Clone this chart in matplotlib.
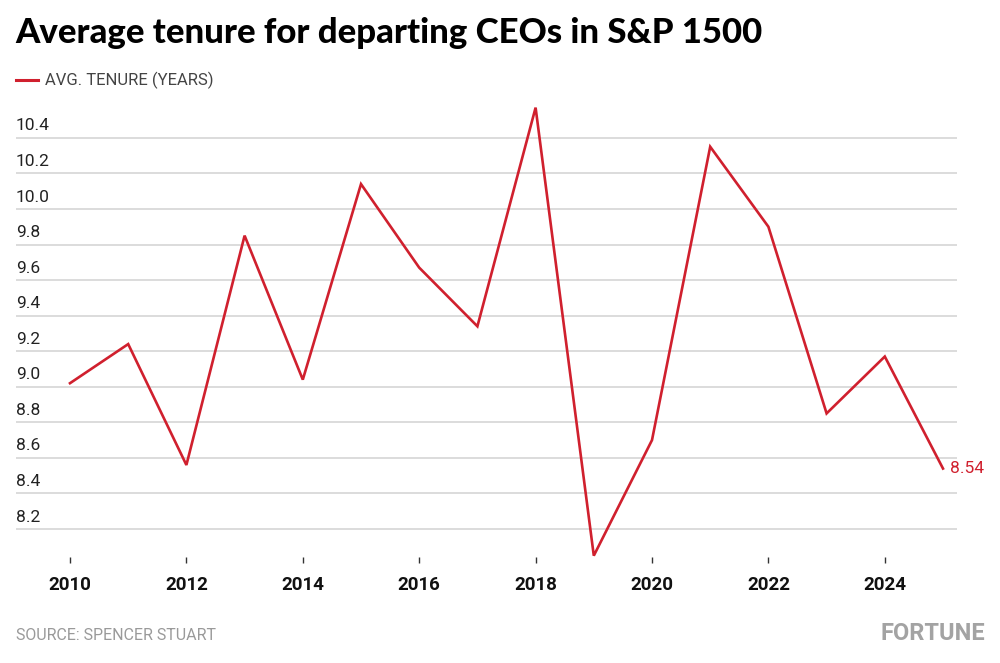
import matplotlib
matplotlib.use("Agg")
import matplotlib.pyplot as plt
import matplotlib.transforms as mtransforms

# data
years = [2010, 2011, 2012, 2013, 2014, 2015, 2016, 2017,
         2018, 2019, 2020, 2021, 2022, 2023, 2024, 2025]
tenure = [9.02, 9.24, 8.56, 9.85, 9.04, 10.14, 9.67, 9.34,
          10.57, 8.05, 8.70, 10.35, 9.90, 8.85, 9.17, 8.54]
y_ticks = [8.2, 8.4, 8.6, 8.8, 9.0, 9.2, 9.4, 9.6, 9.8, 10.0, 10.2, 10.4]
x_ticks = [2010, 2012, 2014, 2016, 2018, 2020, 2022, 2024]

RED = "#d0202e"
NARROW = ["Roboto", "DejaVu Sans"]

W, H = 1000, 663
fig = plt.figure(figsize=(W / 100, H / 100), dpi=100)
fig.patch.set_facecolor("white")

# axes placed in pixel terms
left, right, top, bottom = 16, 957, 95, 563
ax = fig.add_axes([left / W, (H - bottom) / H, (right - left) / W, (bottom - top) / H])

ax.plot(years, tenure, color=RED, lw=1.9, solid_joinstyle="miter", zorder=3)

ax.set_xlim(2010 - 54 / 58.2, 2010 + 887 / 58.2)
ax.set_ylim(8.2 - 34 / 177.8, 8.2 + 434 / 177.8)

for s in ax.spines.values():
    s.set_visible(False)

ax.set_yticks(y_ticks)
ax.set_yticklabels([])
ax.tick_params(axis="y", length=0)
ax.grid(axis="y", color="#d6d6d6", lw=1.2)
ax.set_axisbelow(True)

ax.set_xticks(x_ticks)
ax.set_xticklabels([str(x) for x in x_ticks], fontsize=13.5, fontweight="bold",
                   family=["Roboto", "DejaVu Sans"], color="#111111")
ax.tick_params(axis="x", direction="in", length=4.5, width=1.0, color="#333333", pad=9)

# y labels sit above the gridlines at the left edge
trans = mtransforms.blended_transform_factory(ax.transAxes, ax.transData)
for v in y_ticks:
    ax.text(0, v + 0.025, f"{v:.1f}", transform=trans, ha="left", va="bottom",
            fontsize=12.5, family=NARROW, color="#222222")

# end label
ax.text(years[-1] + 0.12, tenure[-1], f"{tenure[-1]:.2f}", ha="left", va="center",
        fontsize=12.5, family=NARROW, color=RED)

# title, legend, source, logo
fig.text(15 / W, 1 - 33 / H, "Average tenure for departing CEOs in S&P 1500",
         ha="left", va="center", fontsize=25, fontweight="black",
         family=["Lato", "DejaVu Sans"], color="#000000")
fig.add_artist(plt.Line2D([16 / W, 38 / W], [1 - 80 / H, 1 - 80 / H], color=RED, lw=2.2))
fig.text(45 / W, 1 - 80 / H, "AVG. TENURE (YEARS)", ha="left", va="center",
         fontsize=12, family=NARROW, color="#444444")
fig.text(16 / W, 1 - 636 / H, "SOURCE: SPENCER STUART", ha="left", va="center",
         fontsize=11.5, family=NARROW, color="#9a9a9a")
fig.text(985 / W, 1 - 634 / H, "FORTUNE", ha="right", va="center",
         fontsize=17, fontweight="bold", family=NARROW, color="#a3a3a3")

fig.savefig("out.png", dpi=100, facecolor="white")
